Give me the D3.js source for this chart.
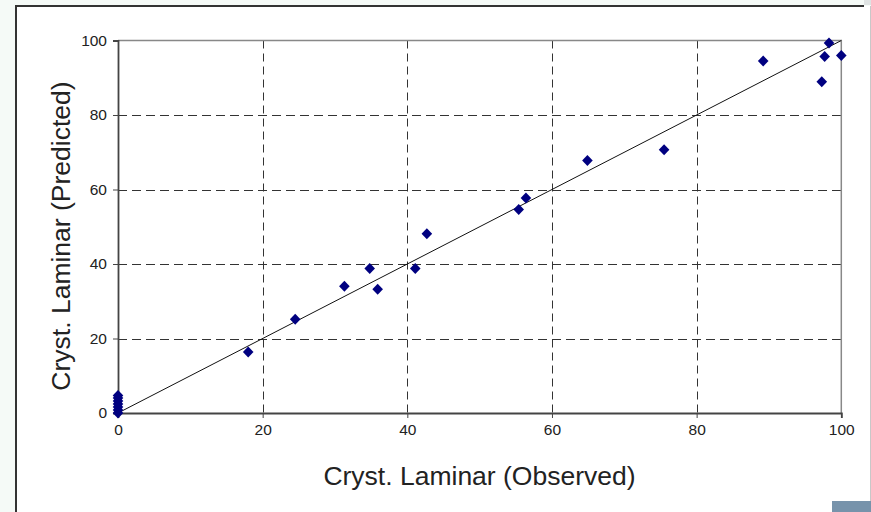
<!DOCTYPE html>
<html>
<head>
<meta charset="utf-8">
<script src="https://cdn.jsdelivr.net/npm/d3@7"></script>
<style>
  html, body { margin: 0; padding: 0; background: #f5faf7; }
  svg { display: block; }
  .tick text { font-family: "Liberation Sans", Arial, sans-serif; }
</style>
</head>
<body>
<svg id="chart" width="871" height="512"></svg>
<script>
// values
const observed  = [0, 0, 0, 0, 0, 0, 0, 18.0, 24.5, 31.3, 34.8, 35.9, 41.1, 42.7, 55.4, 56.4, 64.9, 75.5, 89.2, 97.3, 97.7, 98.3, 100]
const predicted = [0, 0.8, 1.6, 2.4, 3.2, 4.0, 4.7, 16.4, 25.2, 34.0, 38.8, 33.2, 38.8, 48.1, 54.6, 57.7, 67.8, 70.7, 94.5, 88.9, 95.7, 99.3, 96.0]
const fitLine = [[0, 0], [100, 100]]
const tickValues = [0, 20, 40, 60, 80, 100]
const gridValues = [20, 40, 60, 80]
const xTitle = 'Cryst. Laminar (Observed)'
const yTitle = 'Cryst. Laminar (Predicted)'

const svg = d3.select('#chart')
const font = '"Liberation Sans", Arial, sans-serif'

// outer frame
svg.append('rect').attr('x', 864).attr('y', 0).attr('width', 7).attr('height', 5).attr('fill', '#dfe3e3')
svg.append('rect')
  .attr('x', 16).attr('y', 6).attr('width', 854).attr('height', 520)
  .attr('fill', '#fff')
svg.append('path').attr('d', 'M16,512 V6 H864')
  .attr('fill', 'none').attr('stroke', '#333').attr('stroke-width', 2)
svg.append('line').attr('x1', 870.5).attr('x2', 870.5).attr('y1', 6).attr('y2', 512)
  .attr('stroke', '#c8c8c8')
svg.append('rect').attr('x', 832).attr('y', 501).attr('width', 39).attr('height', 11).attr('fill', '#7793ab')

const margin = { left: 118, right: 841.3, top: 40.5, bottom: 413 }
const x = d3.scaleLinear().domain([0, 100]).range([margin.left, margin.right])
const y = d3.scaleLinear().domain([0, 100]).range([margin.bottom, margin.top])

// grid
const grid = svg.append('g')
grid.selectAll('.vgrid').data(gridValues).join('line')
  .attr('x1', d => Math.round(x(d)) + 0.5).attr('x2', d => Math.round(x(d)) + 0.5)
  .attr('y1', margin.top).attr('y2', margin.bottom)
  .attr('stroke', '#333').attr('stroke-dasharray', '8,5')
grid.selectAll('.hgrid').data(gridValues).join('line')
  .attr('y1', d => Math.round(y(d)) + 0.5).attr('y2', d => Math.round(y(d)) + 0.5)
  .attr('x1', margin.left).attr('x2', margin.right)
  .attr('stroke', '#333').attr('stroke-dasharray', '9,5')

// top / right border of plot
svg.append('path')
  .attr('d', `M${margin.left},${margin.top} H${margin.right} V${margin.bottom}`)
  .attr('fill', 'none').attr('stroke', '#888').attr('stroke-width', 1.5)

// axes
const xAxis = d3.axisBottom(x).tickValues(tickValues).tickSize(5).tickPadding(6)
const yAxis = d3.axisLeft(y).tickValues(tickValues).tickSize(5).tickPadding(6)

svg.append('g').attr('transform', `translate(0,${margin.bottom})`).call(xAxis)
  .call(g => g.select('.domain').attr('stroke', '#444').attr('stroke-width', 1.8))
  .call(g => g.selectAll('.tick line').attr('stroke', '#444'))
  .call(g => g.selectAll('.tick text').attr('font-size', 15.5).attr('fill', '#222'))
svg.append('g').attr('transform', `translate(${margin.left},0)`).call(yAxis)
  .call(g => g.select('.domain').attr('stroke', '#444').attr('stroke-width', 1.8))
  .call(g => g.selectAll('.tick line').attr('stroke', '#444'))
  .call(g => g.selectAll('.tick text').attr('font-size', 15.5).attr('fill', '#222'))

// 1:1 line
svg.append('path')
  .datum(fitLine)
  .attr('d', d3.line().x(d => x(d[0])).y(d => y(d[1])))
  .attr('fill', 'none').attr('stroke', '#111').attr('stroke-width', 1)

// points
svg.append('g').selectAll('path').data(observed.map((o, i) => [o, predicted[i]])).join('path')
  .attr('transform', d => `translate(${x(d[0])},${y(d[1])})`)
  .attr('d', 'M0,-5.5 L5.3,0 L0,5.5 L-5.3,0 Z')
  .attr('fill', '#000080')

// titles
svg.append('text')
  .attr('x', 479.5).attr('y', 485)
  .attr('text-anchor', 'middle').attr('font-family', font).attr('font-size', 26.5).attr('fill', '#222')
  .text(xTitle)
svg.append('text')
  .attr('transform', 'translate(70,236) rotate(-90)')
  .attr('text-anchor', 'middle').attr('font-family', font).attr('font-size', 26.5).attr('fill', '#222')
  .text(yTitle)
</script>
</body>
</html>
